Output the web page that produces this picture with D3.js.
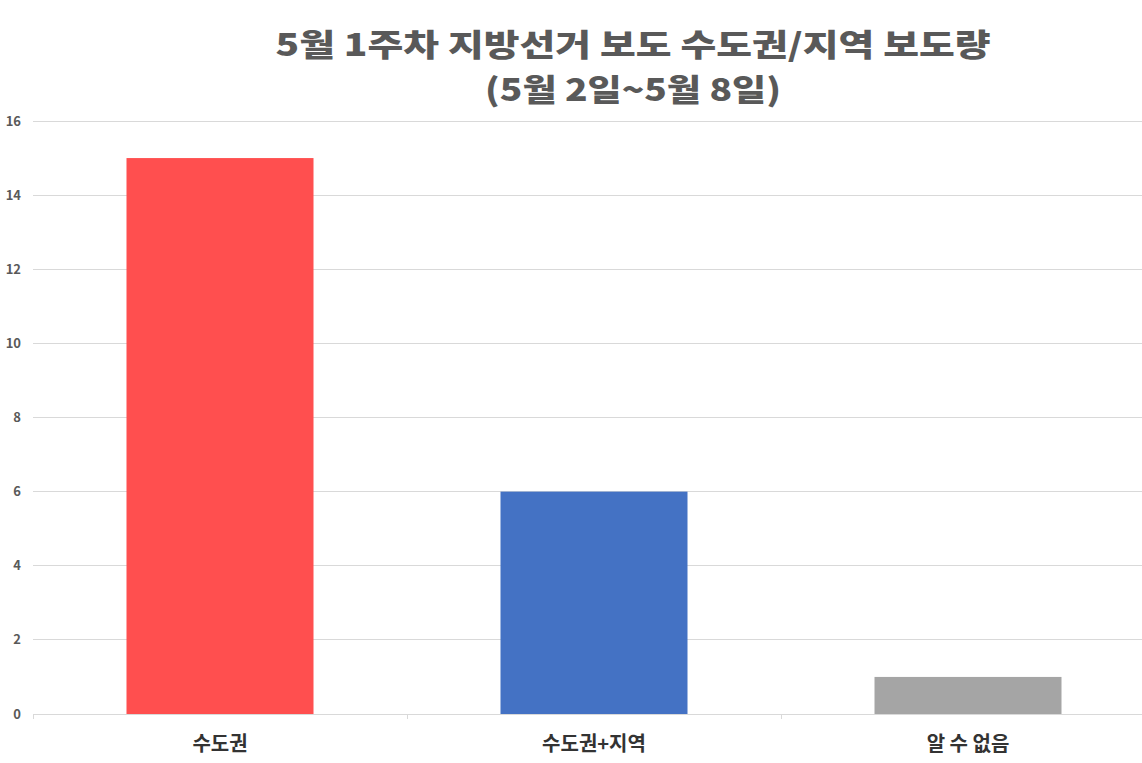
<!DOCTYPE html>
<html><head><meta charset="utf-8">
<script src="https://cdn.jsdelivr.net/npm/d3@7"></script>
<style>body{margin:0;background:#fff;overflow:hidden}svg{display:block}</style>
</head><body><svg id="c" width="1142" height="763"></svg>
<script>
const categories = ["수도권", "수도권+지역", "알 수 없음"];
const values = [15, 6, 1];
const colors = ["#ff4f4f", "#4472c4", "#a5a5a5"];
const yTicks = [0, 2, 4, 6, 8, 10, 12, 14, 16];
const titleLines = ["5월 1주차 지방선거 보도 수도권/지역 보도량", "(5월 2일~5월 8일)"];

const svg = d3.select("#c");
const x = d3.scaleBand().domain(categories).range([33, 1155]).paddingInner(0).paddingOuter(0);
const y = d3.scaleLinear().domain([0, 16]).range([714, 121]);

// grid
svg.append("g").selectAll("line").data(yTicks).join("line")
  .attr("x1", 33).attr("x2", 1142)
  .attr("y1", d => y(d)).attr("y2", d => y(d))
  .attr("stroke", "#d9d9d9").attr("stroke-width", 1).attr("shape-rendering", "crispEdges");

// y labels
svg.append("g").selectAll("text").data(yTicks).join("text")
  .attr("x", 21).attr("y", d => y(d)).attr("dy", "0.35em")
  .attr("text-anchor", "end")
  .attr("font-family", "Noto Sans CJK KR, Noto Sans, sans-serif")
  .attr("font-weight", 700).attr("font-size", 13).attr("fill", "#595959")
  .text(d => d);

// x category ticks
const bounds = [categories[1], categories[2]].map(c => x(c));
svg.append("g").selectAll("line").data(bounds).join("line")
  .attr("x1", d => d).attr("x2", d => d).attr("y1", 714).attr("y2", 719)
  .attr("stroke", "#d9d9d9").attr("shape-rendering", "crispEdges");
svg.append("line").attr("x1", 33).attr("x2", 33).attr("y1", 714).attr("y2", 719)
  .attr("stroke", "#d9d9d9").attr("shape-rendering", "crispEdges");

// bars
const bw = x.bandwidth() * 0.5;
svg.append("g").selectAll("rect").data(categories).join("rect")
  .attr("x", d => x(d) + x.bandwidth() / 2 - bw / 2)
  .attr("width", bw)
  .attr("y", (d, i) => y(values[i]))
  .attr("height", (d, i) => y(0) - y(values[i]))
  .attr("fill", (d, i) => colors[i]);

// x labels
svg.append("g").selectAll("text").data(categories).join("text")
  .attr("x", d => x(d) + x.bandwidth() / 2).attr("y", 751)
  .attr("text-anchor", "middle")
  .attr("font-family", "Noto Sans CJK KR, Noto Sans, sans-serif")
  .attr("font-weight", 700).attr("font-size", 20).attr("fill", "#333")
  .text(d => d);

// title
svg.append("g").selectAll("text").data(titleLines).join("text")
  .attr("x", 633).attr("y", (d, i) => 56 + i * 45)
  .attr("text-anchor", "middle")
  .attr("font-family", "Noto Sans CJK KR, sans-serif")
  .attr("font-weight", 900).attr("font-size", 31).attr("fill", "#595959")
  .attr("textLength", (d, i) => i === 0 ? 715 : 296)
  .attr("lengthAdjust", "spacingAndGlyphs")
  .text(d => d);
</script></body></html>
